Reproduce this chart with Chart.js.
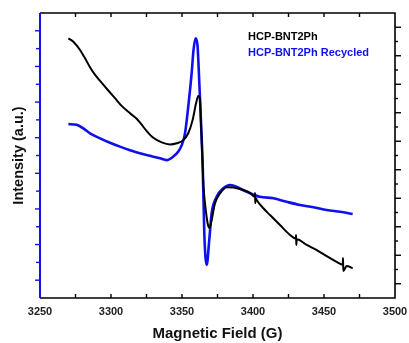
<!DOCTYPE html>
<html>
<head>
<meta charset="utf-8">
<script src="https://cdn.jsdelivr.net/npm/chart.js@4"></script>
<style>
  html, body { margin: 0; padding: 0; background: #fff; }
  canvas { display: block; }
</style>
</head>
<body>
<canvas id="esrChart" width="409" height="343"></canvas>
<script>
// HCP-BNT2Ph (black, right axis)
const blackField = [3270, 3273.5, 3278.2, 3281.7, 3285.2, 3288.7, 3293.5, 3298.1, 3302.8, 3307.5,
    3313.4, 3318.1, 3321.6, 3325.1, 3329.8, 3335.7, 3341.5, 3346.3, 3350.9, 3354.4,
    3357.5, 3359.9, 3361.5, 3362.7, 3363.0, 3364.1, 3365.1, 3366.9, 3368.3, 3369.4,
    3370.9, 3373.2, 3376.8, 3381.5, 3386.1, 3393.2, 3397.9, 3401.2, 3401.4, 3401.6,
    3401.8, 3402.6, 3407.3, 3412.0, 3419.0, 3426.1, 3430.1, 3430.3, 3430.5, 3430.8,
    3437.8, 3444.9, 3451.9, 3458.9, 3463.2, 3463.4, 3463.6, 3466.0, 3470.2];
const blackIntensity = [9.11, 8.99, 8.70, 8.41, 8.10, 7.84, 7.55, 7.28, 7.01, 6.74,
    6.48, 6.29, 6.08, 5.86, 5.62, 5.46, 5.39, 5.43, 5.54, 5.78,
    6.25, 6.83, 7.09, 6.95, 6.60, 5.19, 3.96, 3.02, 2.56, 2.46,
    2.74, 3.32, 3.67, 3.89, 3.88, 3.79, 3.69, 3.55, 3.68, 3.33,
    3.52, 3.44, 3.15, 2.91, 2.56, 2.21, 2.08, 2.21, 1.86, 2.06,
    1.86, 1.68, 1.47, 1.27, 1.17, 1.40, 0.95, 1.12, 1.04];

// HCP-BNT2Ph Recycled (blue, left axis)
const blueField = [3270, 3275.8, 3280.5, 3285.2, 3292.3, 3299.3, 3306.3, 3313.4, 3320.4, 3327.5,
    3334.5, 3339.2, 3343.9, 3347.4, 3349.8, 3352.1, 3354.4, 3356.8, 3358.1, 3359.6,
    3360.9, 3361.5, 3363.2, 3364.6, 3365.7, 3367.4, 3369.2, 3370.9, 3374.4, 3379.1,
    3383.8, 3395.6, 3404.9, 3414.3, 3423.7, 3433.1, 3442.5, 3451.9, 3461.3, 3470.2];
const blueIntensity = [4.88, 4.86, 4.76, 4.62, 4.48, 4.36, 4.25, 4.15, 4.06, 3.99,
    3.92, 3.87, 3.97, 4.11, 4.29, 4.62, 5.37, 6.31, 6.96, 7.29,
    7.10, 6.68, 5.09, 3.69, 1.82, 0.93, 1.63, 2.39, 2.84, 3.08,
    3.17, 2.98, 2.84, 2.80, 2.70, 2.61, 2.55, 2.47, 2.42, 2.36];

const fieldTicks = [3250, 3300, 3350, 3400, 3450, 3500];
const seriesLabels = ["HCP-BNT2Ph", "HCP-BNT2Ph Recycled"];
const seriesColors = ["#000000", "#1010ee"];

const FONT = "'Liberation Sans', Arial, sans-serif";

function toPoints(xs, ys) {
    return xs.map((x, i) => ({ x: x, y: ys[i] }));
}

// frame, tick marks and in-plot legend
const framePlugin = {
    id: "framePlugin",
    afterDraw(chart) {
        const { ctx, chartArea: a, scales } = chart;
        const xs = scales.x, yB = scales.yB, yK = scales.yK;
        ctx.save();
        ctx.lineCap = "butt";

        // black frame
        ctx.strokeStyle = "#000";
        ctx.lineWidth = 1.6;
        ctx.beginPath();
        ctx.moveTo(a.left, a.top);
        ctx.lineTo(a.right, a.top);
        ctx.lineTo(a.right, a.bottom);
        ctx.lineTo(a.left, a.bottom);
        ctx.stroke();

        // top / bottom inward ticks every 25 G
        ctx.lineWidth = 1.4;
        for (let v = 3275; v < 3500; v += 25) {
            const px = xs.getPixelForValue(v);
            ctx.beginPath();
            ctx.moveTo(px, a.top);
            ctx.lineTo(px, a.top + 4);
            ctx.moveTo(px, a.bottom);
            ctx.lineTo(px, a.bottom - 4);
            ctx.stroke();
        }

        // right axis ticks (black, outward)
        for (let v = 0.5; v < 10; v += 0.5) {
            const py = yK.getPixelForValue(v);
            const len = (v % 1 === 0.5) ? 6 : 3;
            ctx.beginPath();
            ctx.moveTo(a.right, py);
            ctx.lineTo(a.right + len, py);
            ctx.stroke();
        }

        // left axis (blue)
        ctx.strokeStyle = seriesColors[1];
        ctx.lineWidth = 2;
        ctx.beginPath();
        ctx.moveTo(a.left, a.top);
        ctx.lineTo(a.left, a.bottom);
        ctx.stroke();
        ctx.lineWidth = 1.4;
        for (let v = 0.5; v < 8; v += 0.5) {
            const py = yB.getPixelForValue(v);
            const len = (v % 1 === 0.5) ? 5 : 4;
            ctx.beginPath();
            ctx.moveTo(a.left, py);
            ctx.lineTo(a.left - len, py);
            ctx.stroke();
        }

        // legend text
        ctx.font = "bold 11px " + FONT;
        ctx.textAlign = "left";
        ctx.textBaseline = "middle";
        seriesLabels.forEach((label, i) => {
            ctx.fillStyle = seriesColors[i];
            ctx.fillText(label, 248, 37 + i * 15.5);
        });
        ctx.restore();
    }
};

new Chart(document.getElementById("esrChart").getContext("2d"), {
    type: "line",
    data: {
        datasets: [{
            label: seriesLabels[0],
            data: toPoints(blackField, blackIntensity),
            borderColor: seriesColors[0],
            borderWidth: 2,
            pointRadius: 0,
            cubicInterpolationMode: "monotone",
            yAxisID: "yK"
        }, {
            label: seriesLabels[1],
            data: toPoints(blueField, blueIntensity),
            borderColor: seriesColors[1],
            borderWidth: 2.6,
            pointRadius: 0,
            cubicInterpolationMode: "monotone",
            yAxisID: "yB"
        }]
    },
    options: {
        responsive: false,
        animation: false,
        layout: { padding: { top: 13, left: 0, right: 0, bottom: 0 } },
        plugins: {
            legend: { display: false },
            tooltip: { enabled: false }
        },
        scales: {
            x: {
                type: "linear",
                min: 3250,
                max: 3500,
                afterBuildTicks: (scale) => { scale.ticks = fieldTicks.map((v) => ({ value: v })); },
                afterFit: (scale) => {
                    scale.height = 45;
                    scale.paddingLeft = 0;
                    scale.paddingRight = 0;
                },
                grid: { display: false, drawTicks: false },
                border: { display: false },
                ticks: {
                    padding: 7,
                    color: "#222",
                    callback: (v) => String(v),
                    font: { family: FONT, size: 11, weight: "bold" }
                },
                title: {
                    display: true,
                    text: "Magnetic Field (G)",
                    color: "#111",
                    padding: { top: 0, bottom: 0 },
                    font: { family: FONT, size: 15, weight: "bold" }
                }
            },
            yB: {
                type: "linear",
                position: "left",
                min: 0,
                max: 8,
                afterFit: (scale) => { scale.width = 40; },
                grid: { display: false, drawTicks: false },
                border: { display: false },
                ticks: { display: false },
                title: {
                    display: true,
                    text: "Intensity (a.u.)",
                    color: "#111",
                    padding: { top: 10, bottom: 0 },
                    font: { family: FONT, size: 14.5, weight: "bold" }
                }
            },
            yK: {
                type: "linear",
                position: "right",
                min: 0,
                max: 10,
                afterFit: (scale) => { scale.width = 14; },
                grid: { display: false, drawTicks: false },
                border: { display: false },
                ticks: { display: false }
            }
        }
    },
    plugins: [framePlugin]
});
</script>
</body>
</html>
